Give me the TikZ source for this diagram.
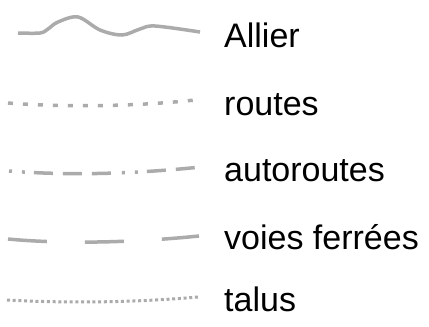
\documentclass[tikz,border=0pt]{standalone}
\usepackage{fontspec}
\setmainfont{Liberation Sans}
\begin{document}
\begin{tikzpicture}[x=1pt,y=-1pt,
  legline/.style={draw=black!33,line width=3.5pt},
  legtext/.style={anchor=base west,inner sep=0pt,font=\fontsize{34}{36}\selectfont}]
\useasboundingbox (0,0) rectangle (429,327);
% Allier
\draw[legline] plot[smooth,tension=0.55] coordinates {(18,33) (40,33) (48,29) (58,22) (78,17) (100,30) (122,35) (140,29) (155,26) (200,32)};
% routes
\draw[legline,dash pattern=on 5 off 10] (8,103) .. controls (60,107) and (130,107) .. (195,100);
% autoroutes
\draw[legline,dash pattern=on 3 off 10 on 3 off 9 on 19 off 10 on 19 off 10 on 19 off 11] (9,171) .. controls (60,175) and (120,175) .. (196,167.5);
% voies ferrees
\draw[legline,dash pattern=on 39 off 38] (8,239) .. controls (60,244) and (130,243) .. (199,236);
% talus
\draw[legline,line width=3pt,dash pattern=on 3 off 2.7] (7,300) .. controls (60,303) and (130,303) .. (198,297);
\node[legtext] (t1) at (224,47) {Allier};
\node[legtext] (t2) at (224,115) {routes};
\node[legtext] (t3) at (224,181.5) {autoroutes};
\node[legtext] (t4) at (224,249) {voies ferrées};
\node[legtext] (t5) at (224,311.5) {talus};
\end{tikzpicture}
\end{document}
